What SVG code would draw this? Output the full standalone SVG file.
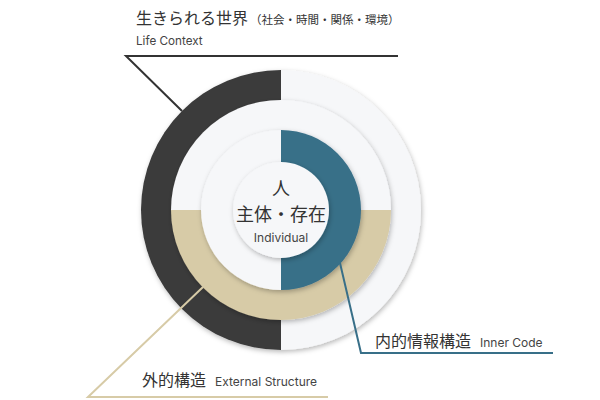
<svg xmlns="http://www.w3.org/2000/svg" width="600" height="400" viewBox="0 0 600 400">
<defs>
<filter id="sh" x="-20%" y="-20%" width="140%" height="140%">
<feDropShadow dx="1" dy="2" stdDeviation="2.5" flood-color="#000" flood-opacity="0.28"/>
</filter>
<style>
.dark{fill:#3a3a3a}
.light{fill:#f6f7f9}
.tan{fill:#d7cba7}
.blue{fill:#386f88}
.ja{font-family:"Noto Sans CJK JP","Noto Sans",sans-serif;fill:#333}
.en{font-family:Inter,"Liberation Sans",sans-serif;fill:#444}
.conn{fill:none;stroke-width:2}
</style>
</defs>
<rect width="600" height="400" fill="#ffffff"/>
<g id="life-context">
<g filter="url(#sh)">
<path class="dark" d="M281,70 A140,140 0 0 0 281,350 Z"/>
<path class="light" d="M281,70 A140,140 0 0 1 281,350 Z"/>
</g>
<text class="ja" x="136" y="24" font-size="16">生きられる世界<tspan font-size="11.5" dx="2">（社会・時間・関係・環境）</tspan></text>
<text class="en" x="136" y="45" font-size="11.7">Life Context</text>
</g>
<g id="external-structure">
<g filter="url(#sh)">
<path class="light" d="M171,210 A110,110 0 0 1 391,210 Z"/>
<path class="tan" d="M171,210 A110,110 0 0 0 391,210 Z"/>
</g>
<text class="ja" x="142" y="386" font-size="16">外的構造<tspan class="en" font-size="12" dx="9">External Structure</tspan></text>
</g>
<g id="inner-code">
<g filter="url(#sh)">
<path class="light" d="M281,130 A80,80 0 0 0 281,290 Z"/>
<path class="blue" d="M281,130 A80,80 0 0 1 281,290 Z"/>
</g>
<text class="ja" x="375" y="347" font-size="16">内的情報構造<tspan class="en" font-size="12" dx="9">Inner Code</tspan></text>
</g>
<g id="individual">
<circle class="light" cx="281" cy="210" r="48" filter="url(#sh)"/>
<text class="ja" x="281" y="195" font-size="18" text-anchor="middle">人</text>
<text class="ja" x="281" y="221" font-size="18" text-anchor="middle">主体・存在</text>
<text class="en" x="281" y="242" font-size="12" text-anchor="middle" fill="#555">Individual</text>
</g>
<g id="connectors">
<polyline class="conn" stroke="#333333" points="182,111 126,56 398,56"/>
<polyline class="conn" stroke="#d7cba7" points="203,287 88,397 328,397"/>
<polyline class="conn" stroke="#386f88" points="340,263 361,353 553,353"/>
</g>
</svg>
